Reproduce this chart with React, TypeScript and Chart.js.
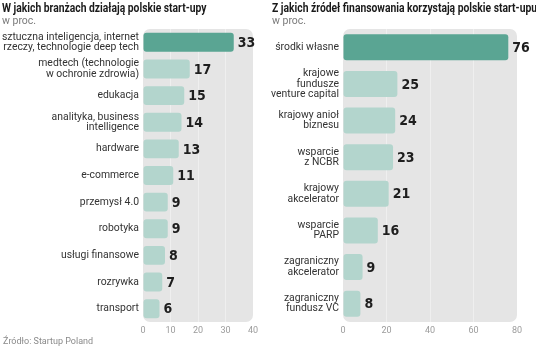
import React, { useEffect, useRef } from "react";
import { Chart, registerables } from "chart.js";
Chart.register(...registerables);

const leftTitle = "W jakich branżach działają polskie start-upy";
const rightTitle = "Z jakich źródeł finansowania korzystają polskie start-upu,";
const unitLabel = "w proc.";
const sourceLabel = "Źródło: Startup Poland";

const leftCategories: (string | string[])[] = [
  ["sztuczna inteligencja, internet", "rzeczy, technologie deep tech"],
  ["medtech (technologie", "w ochronie zdrowia)"],
  "edukacja",
  ["analityka, business", "intelligence"],
  "hardware",
  "e-commerce",
  "przemysł 4.0",
  "robotyka",
  "usługi finansowe",
  "rozrywka",
  "transport",
];
const leftValues = [33, 17, 15, 14, 13, 11, 9, 9, 8, 7, 6];
const leftMax = 40;
const leftStep = 10;

const rightCategories: (string | string[])[] = [
  "środki własne",
  ["krajowe", "fundusze", "venture capital"],
  ["krajowy anioł", "biznesu"],
  ["wsparcie", "z NCBR"],
  ["krajowy", "akcelerator"],
  ["wsparcie", "PARP"],
  ["zagraniczny", "akcelerator"],
  ["zagraniczny", "fundusz VC"],
];
const rightValues = [76, 25, 24, 23, 21, 16, 9, 8];
const rightMax = 80;
const rightStep = 20;

const DARK = "#5aa593";
const LIGHT = "#b3d5cd";
const LABEL_FONT = 'Roboto, "DejaVu Sans", sans-serif';
const VALUE_FONT = '"DejaVu Sans Condensed", "DejaVu Sans", sans-serif';

function makeChart(
  canvas: HTMLCanvasElement,
  labels: (string | string[])[],
  values: number[],
  max: number,
  step: number,
  yWidth: number,
  rightPad: number
) {
  const bgPlugin = {
    id: "bg",
    beforeDraw(chart: any) {
      const { ctx, chartArea } = chart;
      const { left, top, right, bottom } = chartArea;
      ctx.save();
      ctx.fillStyle = "#e5e5e5";
      ctx.beginPath();
      ctx.roundRect(left, top, right - left, bottom - top, 7);
      ctx.fill();
      ctx.restore();
    },
  };
  const valuePlugin = {
    id: "values",
    afterDatasetsDraw(chart: any) {
      const { ctx } = chart;
      const meta = chart.getDatasetMeta(0);
      ctx.save();
      ctx.font = "bold 14px " + VALUE_FONT;
      ctx.fillStyle = "#1e1e1e";
      ctx.textAlign = "left";
      ctx.textBaseline = "middle";
      meta.data.forEach((bar: any, i: number) => {
        ctx.fillText(String(values[i]), bar.x + 4, bar.y + 1);
      });
      ctx.restore();
    },
  };
  return new Chart(canvas, {
    type: "bar",
    data: {
      labels,
      datasets: [
        {
          data: values,
          backgroundColor: values.map((_, i) => (i === 0 ? DARK : LIGHT)),
          borderRadius: 3,
          borderSkipped: false,
          categoryPercentage: 1,
          barPercentage: 0.71,
        },
      ],
    },
    options: {
      indexAxis: "y",
      responsive: false,
      animation: false,
      devicePixelRatio: 1,
      layout: { padding: { top: 29, right: rightPad, left: 0, bottom: 0 } },
      plugins: {
        legend: { display: false },
        tooltip: { enabled: false },
        title: { display: false },
      },
      scales: {
        x: {
          min: 0,
          max,
          border: { display: false },
          grid: {
            drawTicks: false,
            lineWidth: 1,
            color: (c: any) =>
              c.tick && (c.tick.value === 0 || c.tick.value === max) ? "rgba(0,0,0,0)" : "#efefef",
          },
          ticks: {
            stepSize: step,
            padding: 3,
            color: "#9b9b9b",
            font: { size: 9, family: LABEL_FONT },
          },
          afterFit: (s: any) => {
            s.height = 25;
          },
        },
        y: {
          border: { display: false },
          grid: { display: false, drawTicks: false },
          ticks: {
            autoSkip: false,
            padding: 4,
            color: "#333333",
            font: { size: 10.4, family: LABEL_FONT, lineHeight: 1.0 },
          },
          afterFit: (s: any) => {
            s.width = yWidth;
          },
        },
      },
    },
    plugins: [bgPlugin, valuePlugin],
  } as any);
}

export default function App() {
  const leftRef = useRef<HTMLCanvasElement>(null);
  const rightRef = useRef<HTMLCanvasElement>(null);
  useEffect(() => {
    const a = makeChart(leftRef.current!, leftCategories, leftValues, leftMax, leftStep, 143, 15);
    const b = makeChart(rightRef.current!, rightCategories, rightValues, rightMax, rightStep, 75, 19);
    return () => {
      a.destroy();
      b.destroy();
    };
  }, []);
  const titleStyle: React.CSSProperties = {
    position: "absolute",
    top: 1,
    fontFamily: LABEL_FONT,
    fontWeight: "bold",
    fontSize: 12,
    color: "#1a1a1a",
    whiteSpace: "nowrap",
    lineHeight: "14px",
    transform: "scaleX(0.86)",
    transformOrigin: "left top",
  };
  const unitStyle: React.CSSProperties = {
    position: "absolute",
    top: 14,
    fontFamily: LABEL_FONT,
    fontSize: 10.5,
    color: "#7a7a7a",
    whiteSpace: "nowrap",
    lineHeight: "13px",
  };
  return (
    <div style={{ position: "fixed", left: 0, top: 0, width: 536, height: 347, background: "#fff", overflow: "hidden" }}>
      <canvas ref={leftRef} width={268} height={347} style={{ position: "absolute", left: 0, top: 0, width: 268, height: 347 }} />
      <canvas ref={rightRef} width={268} height={347} style={{ position: "absolute", left: 268, top: 0, width: 268, height: 347 }} />
      <div style={{ ...titleStyle, left: 2 }}>{leftTitle}</div>
      <div style={{ ...unitStyle, left: 2 }}>{unitLabel}</div>
      <div style={{ ...titleStyle, left: 272 }}>{rightTitle}</div>
      <div style={{ ...unitStyle, left: 272 }}>{unitLabel}</div>
      <div
        style={{
          position: "absolute",
          left: 3,
          top: 335,
          fontFamily: LABEL_FONT,
          fontSize: 9,
          color: "#8a8a8a",
          whiteSpace: "nowrap",
          lineHeight: "12px",
        }}
      >
        {sourceLabel}
      </div>
    </div>
  );
}
